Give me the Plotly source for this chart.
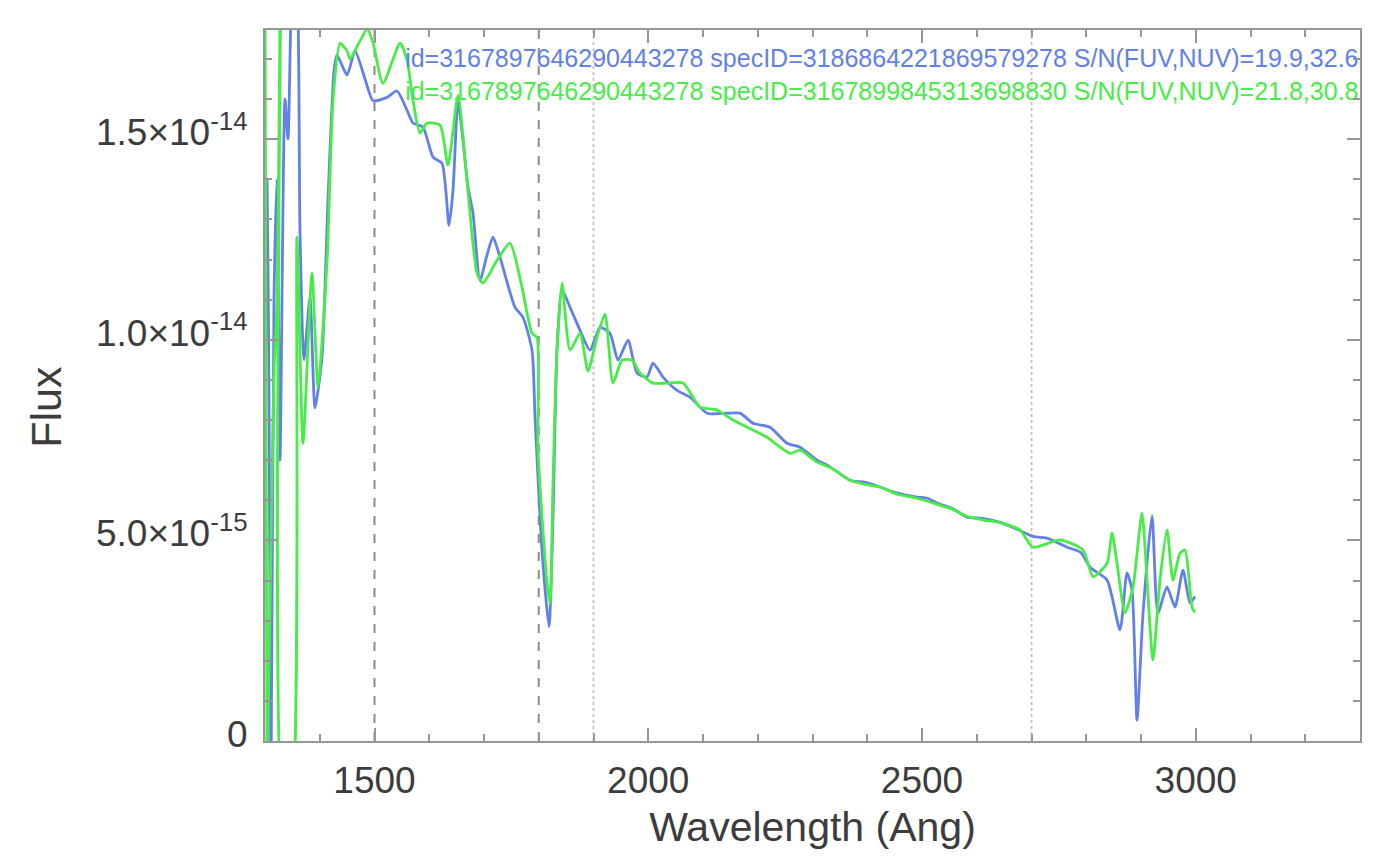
import numpy as np
import plotly.graph_objects as go

# ---------------- data (wavelength in Angstrom, flux in units of 1e-15) ----------------
blue_wave = [1300, 1303.7, 1307.3, 1311, 1316.4, 1321.9, 1327.4, 1336.5, 1342, 1351.1,
             1358.4, 1363.9, 1371.2, 1382.2, 1391.3, 1404.1, 1415.1, 1426, 1431.5, 1449.8,
             1464.4, 1482.7, 1497.3, 1522.8, 1541.1, 1559.4, 1570.3, 1588.6, 1606.9, 1623.3,
             1636.1, 1643.4, 1652.5, 1661.6, 1670.8, 1679.9, 1692.7, 1705.5, 1716.4, 1729.2,
             1756.6, 1771.2, 1787.7, 1793.2, 1805.9, 1818.7, 1826, 1833.3, 1842.5, 1857.1,
             1875.3, 1893.6, 1911.9, 1930.1, 1944.8, 1963, 1979.5, 1997.7, 2008.7, 2027,
             2052.5, 2076.3, 2107.3, 2143.8, 2167.6, 2191.3, 2222.4, 2253.4, 2277.2, 2308.2,
             2330, 2368.5, 2395, 2423.3, 2450, 2490.9, 2510, 2527.4, 2555, 2582.2,
             2610, 2642.5, 2670, 2702.8, 2730, 2764.9, 2790, 2806.9, 2838, 2861.7,
             2874.4, 2883.6, 2892.7, 2903.7, 2920.1, 2930.9, 2947.5, 2962.1, 2976.7, 2989.5,
             2998.6]
blue_flux = [12.2, 14.0, 8.5, -1.0, 11.0, 14.0, 7.0, 16.0, 15.0, 19.5,
             19.0, 12.7, 9.5, 11.06, 8.3, 9.57, 13.5, 16.7, 17.1, 16.6,
             17.2, 16.5, 15.96, 16.04, 16.2, 15.72, 15.4, 15.3, 14.55, 14.4,
             12.85, 13.73, 15.96, 14.97, 13.8, 13.15, 11.48, 12.11, 12.56, 12.06,
             10.81, 10.56, 9.74, 8.07, 4.76, 2.85, 5.58, 9.74, 11.24, 10.81,
             10.24, 9.74, 10.31, 10.16, 9.49, 9.99, 9.17, 9.07, 9.42, 9.07,
             8.74, 8.57, 8.17, 8.17, 8.17, 7.92, 7.82, 7.42, 7.32, 7.0,
             6.85, 6.5, 6.45, 6.33, 6.2, 6.08, 6.05, 5.93, 5.8, 5.58,
             5.55, 5.45, 5.3, 5.1, 5.05, 4.83, 4.7, 4.33, 4.01, 2.77,
             4.19, 3.76, 0.52, 3.19, 5.61, 3.19, 3.84, 3.34, 4.26, 3.44,
             3.6]

green_wave = [1300, 1303.7, 1316, 1322, 1329, 1334.7, 1346, 1358.4, 1369.4, 1385.8,
              1396.8, 1413.2, 1424.2, 1437, 1449.8, 1455.3, 1473.5, 1487, 1497.3, 1515.5,
              1546.6, 1559.4, 1570.3, 1583.1, 1595.9, 1619.6, 1634.2, 1652.5, 1668.9, 1687.2,
              1698.2, 1723.7, 1747.5, 1768, 1787.7, 1796.8, 1798.6, 1815.1, 1820.6, 1826,
              1833.3, 1842.5, 1857.1, 1875.3, 1890, 1906.4, 1921, 1935.6, 1952.1, 1970.3,
              1984.9, 2008.7, 2034.3, 2063.5, 2094.5, 2125.6, 2154.8, 2191.3, 2216.9, 2258.9,
              2277.2, 2308.2, 2335, 2368.5, 2395, 2423.3, 2455, 2490.9, 2527.4, 2555,
              2582.2, 2615, 2642.5, 2679, 2702.8, 2752.1, 2794.1, 2812.4, 2838, 2847.1,
              2856.2, 2870.8, 2885.4, 2901.8, 2911, 2921.9, 2934.7, 2947.5, 2958.4, 2971.2,
              2980.4, 2993.1, 2998.6]
green_flux = [19.0, -1.0, 9.0, 11.0, 19.5, -2.0, -2.0, 12.56, 7.42, 11.66,
              8.82, 11.91, 15.96, 17.39, 17.2, 17.0, 17.45, 17.75, 17.4, 16.39,
              17.39, 16.97, 15.96, 15.15, 15.4, 15.35, 14.35, 16.09, 13.98, 11.66,
              11.41, 11.98, 12.41, 11.4, 10.16, 10.06, 7.25, 3.94, 3.44, 6.43,
              9.74, 11.41, 9.74, 10.16, 9.22, 10.06, 10.64, 8.92, 9.49, 9.49,
              9.17, 8.92, 8.92, 8.92, 8.32, 8.25, 8.0, 7.75, 7.57, 7.17,
              7.25, 6.95, 6.8, 6.5, 6.4, 6.33, 6.15, 6.05, 5.9, 5.78,
              5.6, 5.5, 5.45, 5.26, 4.83, 5.01, 4.76, 4.09, 4.43, 5.18,
              4.43, 3.19, 3.84, 5.68, 4.01, 2.02, 4.01, 5.26, 4.01, 4.68,
              4.76, 3.34, 3.2]

flux_scale = 1e-15

blue_label = "id=3167897646290443278 specID=3186864221869579278 S/N(FUV,NUV)=19.9,32.6"
green_label = "id=3167897646290443278 specID=3167899845313698830 S/N(FUV,NUV)=21.8,30.8"
label_wave = 1556
blue_label_flux = 16.95
green_label_flux = 16.12

dashed_lines = [1500, 1800]
dotted_lines = [1900, 2700]

x_range = [1300, 3300]
y_range = [0, 17.72]
y_tickvals = [0, 5, 10, 15]
y_ticktext = ["0", "5.0\u00d710<sup>-15</sup>", "1.0\u00d710<sup>-14</sup>", "1.5\u00d710<sup>-14</sup>"]

BLUE = "rgb(98,128,232)"
GREEN = "rgb(72,236,72)"
AXIS = "rgb(150,150,150)"
TEXT = "rgb(60,60,60)"
FONT = "Liberation Sans, Arial, sans-serif"

fig = go.Figure()

fig.add_trace(go.Scatter(x=blue_wave, y=np.array(blue_flux) * flux_scale, mode="lines",
                         line=dict(color=BLUE, width=2.8, shape="spline", smoothing=0.6),
                         showlegend=False, hoverinfo="skip"))
fig.add_trace(go.Scatter(x=green_wave, y=np.array(green_flux) * flux_scale, mode="lines",
                         line=dict(color=GREEN, width=2.8, shape="spline", smoothing=0.6),
                         showlegend=False, hoverinfo="skip"))

fig.add_trace(go.Scatter(x=[label_wave], y=[blue_label_flux * flux_scale], mode="text",
                         text=[blue_label], textposition="middle right",
                         textfont=dict(family=FONT, size=25, color=BLUE),
                         showlegend=False, hoverinfo="skip", cliponaxis=True))
fig.add_trace(go.Scatter(x=[label_wave], y=[green_label_flux * flux_scale], mode="text",
                         text=[green_label], textposition="middle right",
                         textfont=dict(family=FONT, size=25, color=GREEN),
                         showlegend=False, hoverinfo="skip", cliponaxis=True))

for xv in dashed_lines:
    fig.add_shape(type="line", x0=xv, x1=xv, y0=0, y1=1, xref="x", yref="y domain",
                  line=dict(color="rgb(140,140,140)", width=2, dash="dash"), layer="below")
for xv in dotted_lines:
    fig.add_shape(type="line", x0=xv, x1=xv, y0=0, y1=1, xref="x", yref="y domain",
                  line=dict(color="rgb(200,200,200)", width=2, dash="dot"), layer="below")

fig.update_layout(
    width=1382, height=865,
    margin=dict(l=265, r=22, t=30, b=124),
    paper_bgcolor="white", plot_bgcolor="white",
    font=dict(family=FONT, color=TEXT),
    showlegend=False,
)

fig.update_xaxes(
    range=x_range, showgrid=False, zeroline=False,
    showline=True, linecolor=AXIS, linewidth=2, mirror="ticks",
    ticks="inside", ticklen=13, tickwidth=1.5, tickcolor=AXIS,
    tickmode="linear", tick0=1500, dtick=500,
    tickfont=dict(size=37, color=TEXT), ticklabelstandoff=6,
    minor=dict(ticks="inside", ticklen=7, tickwidth=1.5, tickcolor=AXIS, dtick=100, tick0=1300, showgrid=False),
    title=dict(text="Wavelength (Ang)", font=dict(size=41, color=TEXT), standoff=12),
)
fig.update_yaxes(
    range=[y_range[0] * flux_scale, y_range[1] * flux_scale], showgrid=False, zeroline=False,
    showline=True, linecolor=AXIS, linewidth=2, mirror="ticks",
    ticks="inside", ticklen=13, tickwidth=1.5, tickcolor=AXIS,
    tickmode="array", tickvals=[v * flux_scale for v in y_tickvals], ticktext=y_ticktext,
    tickfont=dict(size=37, color=TEXT), ticklabelstandoff=8, ticklabelshift=-7,
    minor=dict(ticks="inside", ticklen=7, tickwidth=1.5, tickcolor=AXIS, tickmode="linear",
               tick0=0, dtick=1e-15, showgrid=False),
)

fig.add_annotation(text="Flux", xref="paper", yref="paper", x=-0.2, y=0.47,
                   textangle=-90, showarrow=False, xanchor="center", yanchor="middle",
                   font=dict(size=43, color=TEXT, family=FONT))

fig.write_html("out.html")
